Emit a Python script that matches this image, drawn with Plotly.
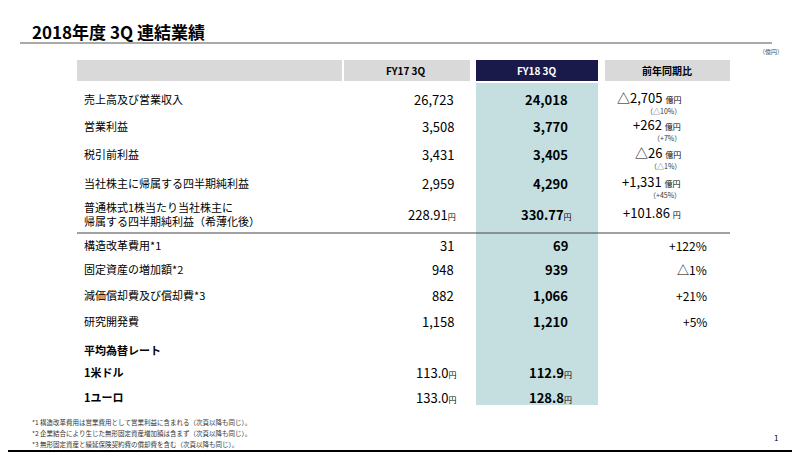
import plotly.graph_objects as go

labels = ["売上高及び営業収入", "営業利益", "税引前利益", "当社株主に帰属する四半期純利益",
          "普通株式1株当たり当社株主に<br>帰属する四半期純利益（希薄化後）",
          "構造改革費用*1", "固定資産の増加額*2", "減価償却費及び償却費*3", "研究開発費",
          "平均為替レート", "1米ドル", "1ユーロ"]
row_y = [99, 126, 154, 183, 214, 245, 269, 295, 321, 350, 372, 397]
fy17 = ["26,723", "3,508", "3,431", "2,959", "228.91", "31", "948", "882", "1,158", "", "113.0", "133.0"]
fy18 = ["24,018", "3,770", "3,405", "4,290", "330.77", "69", "939", "1,066", "1,210", "", "112.9", "128.8"]
yen_suffix = [False, False, False, False, True, False, False, False, False, False, True, True]
yoy = ["△2,705", "+262", "△26", "+1,331", "+101.86", "+122%", "△1%", "+21%", "+5%", "", "", ""]
yoy_unit = ["億円", "億円", "億円", "億円", "円", "", "", "", "", "", "", ""]
yoy_pct = ["（△10%）", "（+7%）", "（△1%）", "（+45%）", "", "", "", "", "", "", "", ""]
headers = ["FY17 3Q", "FY18 3Q", "前年同期比"]
footnotes = ["*1 構造改革費用は営業費用として営業利益に含まれる（次頁以降も同じ）。",
             "*2 企業結合により生じた無形固定資産増加額は含まず（次頁以降も同じ）。",
             "*3 無形固定資産と繰延保険契約費の償却費を含む（次頁以降も同じ）。"]

F = "Noto Sans CJK JP, Liberation Sans, sans-serif"
fig = go.Figure()
shapes = [
    dict(type="rect", x0=7, x1=793, y0=7, y1=451, line=dict(color="black", width=2)),
    dict(type="line", x0=20, x1=772, y0=43, y1=43, line=dict(color="#555", width=1)),
    dict(type="rect", x0=77, x1=342, y0=60, y1=81, fillcolor="#d9d9d9", line_width=0),
    dict(type="rect", x0=344, x1=470, y0=60, y1=81, fillcolor="#d9d9d9", line_width=0),
    dict(type="rect", x0=476, x1=598, y0=60, y1=81, fillcolor="#1a1a4a", line_width=0),
    dict(type="rect", x0=605, x1=730, y0=60, y1=81, fillcolor="#d9d9d9", line_width=0),
    dict(type="rect", x0=476, x1=598, y0=83, y1=405, fillcolor="#c5dfe0", line_width=0),
    dict(type="line", x0=77, x1=730, y0=233, y1=233, line=dict(color="#444", width=1)),
]
ann = []
def A(x, y, t, size=11, anchor="left", color="black", bold=False):
    if bold:
        t = "<b>" + t + "</b>"
    ann.append(dict(x=x, y=y, text=t, showarrow=False, xanchor=anchor, yanchor="middle",
                    align=anchor if anchor != "center" else "center",
                    font=dict(size=size, color=color, family=F)))

A(30, 31, "<b>2018年度 3Q 連結業績</b>", size=17)
A(785, 51, "（億円）", size=6, anchor="right", color="#444")
A(406, 70, headers[0], size=10, anchor="center", bold=True)
A(537, 70, headers[1], size=10, anchor="center", color="white", bold=True)
A(667, 70, headers[2], size=10, anchor="center", bold=True)

for i in range(len(labels)):
    y = row_y[i]
    A(82, y, labels[i], size=11, bold=(i >= 9))
    suf = "<span style='font-size:8px'>円</span>" if yen_suffix[i] else ""
    if fy17[i]:
        A(456 if not yen_suffix[i] else 458, y, fy17[i] + suf, size=13, anchor="right")
    if fy18[i]:
        A(570 if not yen_suffix[i] else 574, y, "<b>" + fy18[i] + "</b>" + suf, size=13, anchor="right")
    if yoy[i]:
        if yoy_unit[i]:
            A(683, y - 2, yoy[i] + " <span style='font-size:8px'>" + yoy_unit[i] + "</span>", size=13, anchor="right")
        else:
            A(709, y, yoy[i], size=12, anchor="right")
    if yoy_pct[i]:
        A(683, y + 12, yoy_pct[i], size=7, anchor="right", color="#333")

for j, t in enumerate(footnotes):
    A(30, 422 + j * 11, t, size=6.5, color="#333")
A(776, 437, "1", size=8, anchor="center")

# HTML body has an 8px margin; shift ranges so data coordinates equal page pixels
fig.update_layout(width=800, height=457, margin=dict(l=0, r=0, t=0, b=0),
                  plot_bgcolor="white", paper_bgcolor="white", shapes=shapes, annotations=ann,
                  xaxis=dict(range=[8, 808], visible=False, fixedrange=True),
                  yaxis=dict(range=[465, 8], visible=False, fixedrange=True), showlegend=False)
fig.write_html("out.html")
